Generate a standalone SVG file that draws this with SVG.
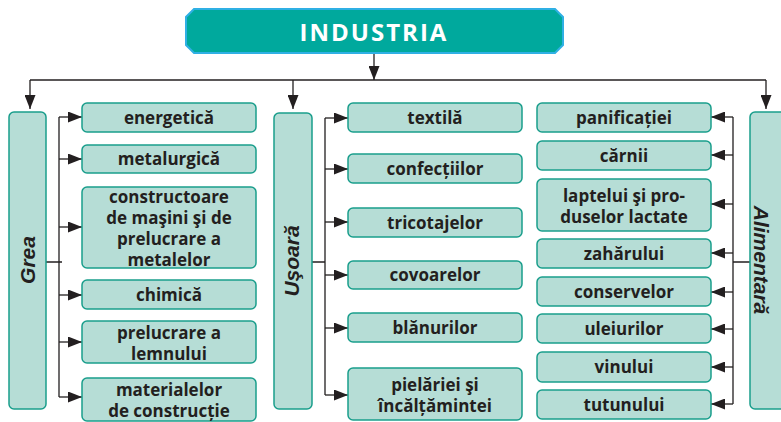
<svg xmlns="http://www.w3.org/2000/svg" width="781" height="422" viewBox="0 0 781 422">
<style>
.box{fill:#b6ddd6;stroke:#1a9e8c;stroke-width:1.5}
.t{font-family:"Open Sans","Noto Sans",sans-serif;font-weight:700;font-size:17px;fill:#231f20;text-anchor:middle}
.v{font-family:"Liberation Sans",Arial,sans-serif;font-weight:700;font-style:italic;font-size:21px;fill:#231f20;text-anchor:middle}
.ln{fill:none;stroke:#231f20;stroke-width:1.3}
.arr{marker-end:url(#ah)}
</style>
<defs>
<marker id="ah" markerUnits="userSpaceOnUse" markerWidth="14" markerHeight="11" refX="14" refY="5.5" orient="auto">
<path d="M0,0 L14,5.5 L0,11 z" fill="#231f20"/>
</marker>
</defs>
<rect width="781" height="422" fill="#ffffff"/>
<g id="connectors">
<path class="ln arr" d="M374,53 V80"/>
<path class="ln" d="M30,80 H766"/>
<path class="ln arr" d="M30,80 V109"/>
<path class="ln arr" d="M293,80 V109"/>
<path class="ln arr" d="M766,80 V109"/>
<path class="ln" d="M46,262 H62 M59,117 V397"/>
<path class="ln arr" d="M59,117 H82"/>
<path class="ln arr" d="M59,159 H82"/>
<path class="ln arr" d="M59,227 H82"/>
<path class="ln arr" d="M59,295 H82"/>
<path class="ln arr" d="M59,342 H82"/>
<path class="ln arr" d="M59,397 H82"/>
<path class="ln" d="M312,262 H325 M325,118 V395"/>
<path class="ln arr" d="M325,118 H348"/>
<path class="ln arr" d="M325,169 H348"/>
<path class="ln arr" d="M325,222 H348"/>
<path class="ln arr" d="M325,275 H348"/>
<path class="ln arr" d="M325,328 H348"/>
<path class="ln arr" d="M325,395 H348"/>
<path class="ln" d="M750,262 H733 M733,117 V404"/>
<path class="ln arr" d="M733,117 H711"/>
<path class="ln arr" d="M733,155 H711"/>
<path class="ln arr" d="M733,204 H711"/>
<path class="ln arr" d="M733,253 H711"/>
<path class="ln arr" d="M733,292 H711"/>
<path class="ln arr" d="M733,329 H711"/>
<path class="ln arr" d="M733,367 H711"/>
<path class="ln arr" d="M733,404 H711"/>
</g>
<g id="industria">
<polygon points="194,9 555,9 563,17 563,45 555,53 194,53 186,45 186,17" fill="#00a99d" stroke="#2fb0e4" stroke-width="2"/>
<text x="374" y="41" font-family="'Open Sans','Noto Sans',sans-serif" font-weight="700" font-size="24" letter-spacing="2" fill="#ffffff" text-anchor="middle">INDUSTRIA</text>
</g>
<g id="grea">
<rect class="box" x="9" y="112" width="37" height="297" rx="5"/>
<text class="v" transform="translate(35,260) rotate(-90)">Grea</text>
</g>
<g id="usoara">
<rect class="box" x="274" y="113" width="38" height="296" rx="5"/>
<text class="v" transform="translate(299,261) rotate(-90)">Uşoară</text>
</g>
<g id="alimentara">
<rect class="box" x="750" y="112" width="45" height="297" rx="5"/>
<text class="v" transform="translate(754,260) rotate(90)">Alimentară</text>
</g>
<g id="energetica"><rect class="box" x="82" y="103" width="174" height="29" rx="5"/><text class="t" x="169" y="123.5">energetică</text></g>
<g id="metalurgica"><rect class="box" x="82" y="145" width="174" height="28" rx="5"/><text class="t" x="169" y="165">metalurgică</text></g>
<g id="constructoare"><rect class="box" x="82" y="187" width="174" height="81" rx="5"/><text class="t" x="169" y="203">constructoare</text><text class="t" x="169" y="224">de maşini  şi de</text><text class="t" x="169" y="245">prelucrare a</text><text class="t" x="169" y="266">metalelor</text></g>
<g id="chimica"><rect class="box" x="82" y="280" width="174" height="29" rx="5"/><text class="t" x="169" y="300.5">chimică</text></g>
<g id="lemnului"><rect class="box" x="82" y="321" width="174" height="42" rx="5"/><text class="t" x="169" y="339">prelucrare a</text><text class="t" x="169" y="360">lemnului</text></g>
<g id="materialelor"><rect class="box" x="82" y="378" width="174" height="43" rx="5"/><text class="t" x="169" y="396">materialelor</text><text class="t" x="169" y="417">de construcție</text></g>
<g id="textila"><rect class="box" x="348" y="103" width="174" height="29" rx="5"/><text class="t" x="435" y="123.5">textilă</text></g>
<g id="confectiilor"><rect class="box" x="348" y="154" width="174" height="29" rx="5"/><text class="t" x="435" y="174.5">confecțiilor</text></g>
<g id="tricotajelor"><rect class="box" x="348" y="208" width="174" height="29" rx="5"/><text class="t" x="435" y="228.5">tricotajelor</text></g>
<g id="covoarelor"><rect class="box" x="348" y="261" width="174" height="28" rx="5"/><text class="t" x="435" y="281">covoarelor</text></g>
<g id="blanurilor"><rect class="box" x="348" y="313" width="174" height="29" rx="5"/><text class="t" x="435" y="333.5">blănurilor</text></g>
<g id="pielariei"><rect class="box" x="348" y="368" width="174" height="52" rx="5"/><text class="t" x="435" y="391">pielăriei şi</text><text class="t" x="435" y="412">încălțămintei</text></g>
<g id="panificatiei"><rect class="box" x="537" y="103" width="174" height="29" rx="5"/><text class="t" x="624" y="123.5">panificației</text></g>
<g id="carnii"><rect class="box" x="537" y="141" width="174" height="29" rx="5"/><text class="t" x="624" y="161.5">cărnii</text></g>
<g id="laptelui"><rect class="box" x="537" y="179" width="174" height="52" rx="5"/><text class="t" x="624" y="202">laptelui şi pro-</text><text class="t" x="624" y="223">duselor lactate</text></g>
<g id="zaharului"><rect class="box" x="537" y="239" width="174" height="29" rx="5"/><text class="t" x="624" y="259.5">zahărului</text></g>
<g id="conservelor"><rect class="box" x="537" y="277" width="174" height="29" rx="5"/><text class="t" x="624" y="297.5">conservelor</text></g>
<g id="uleiurilor"><rect class="box" x="537" y="314" width="174" height="29" rx="5"/><text class="t" x="624" y="334.5">uleiurilor</text></g>
<g id="vinului"><rect class="box" x="537" y="352" width="174" height="30" rx="5"/><text class="t" x="624" y="373">vinului</text></g>
<g id="tutunului"><rect class="box" x="537" y="390" width="174" height="29" rx="5"/><text class="t" x="624" y="410.5">tutunului</text></g>
</svg>
